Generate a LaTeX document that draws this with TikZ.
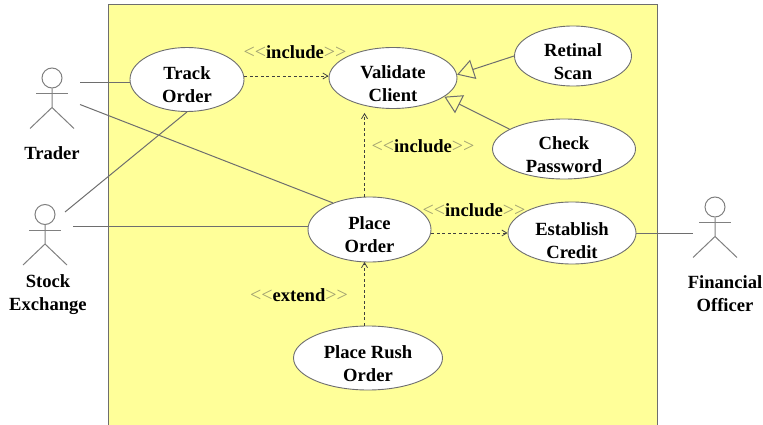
\documentclass[tikz,border=0pt]{standalone}
\usepackage{fontspec}
\setmainfont{Liberation Serif}
\usetikzlibrary{arrows.meta,shapes.geometric}
\definecolor{boxyellow}{HTML}{FFFF99}
\definecolor{linegray}{HTML}{6E6E6E}
\definecolor{stereogray}{HTML}{A0A070}
\newcommand{\chevrons}[1]{{\color{stereogray}\mdseries\fontsize{20}{23}\selectfont#1}}
\newcommand{\stereo}[1]{\chevrons{<{}<}#1\chevrons{>{}>}}
\tikzset{
	every node/.style={font=\fontsize{18.6}{23}\selectfont\bfseries,align=center,inner sep=0pt},
	usecase/.style={draw=linegray,ellipse,fill=white,line width=.9pt},
	usecasetext/.style={yshift=-5.5pt},
	assoc/.style={draw=linegray,line width=1pt},
	limb/.style={draw=gray,line width=1pt},
	depends/.style={draw=black!75,line width=.8pt,dash pattern=on 3pt off 2.5pt,-{Straight Barb[length=5pt,width=6pt]}},
	generalizes/.style={draw=linegray,line width=1pt,-{Triangle[open,length=17pt,width=20pt,fill=boxyellow]}}
}
\begin{document}
\begin{tikzpicture}[x=1pt,y=-1pt]
	\useasboundingbox (0,0) rectangle (763,425);
	\node[draw=linegray,line width=1pt,fill=boxyellow,minimum width=549,minimum height=423] (system) at (382.5,216) {};
	\foreach \name/\px/\py in {trader/52/78,stock/45/214.5,officer/715/207}{
		\node[draw=gray,line width=1pt,circle,minimum size=20] (\name) at (\px,\py) {};
		\draw[limb] (\name.south) -- ++(0,19) coordinate (\name crotch) -- ++(-22,21);
		\draw[limb] (\name crotch) -- ++(22,21);
		\draw[limb] ([yshift=-5]\name.south) ++(-16,0) -- ++(32,0);
	}
	\node at (52,153) (traderlabel) {Trader};
	\node at (48,295) (stocklabel) {Stock\\Exchange};
	\node at (725,294) (officerlabel) {Financial\\Officer};
	\node[usecase,minimum width=114,minimum height=64,label={[usecasetext]center:Track\\Order}] (track) at (187,79.5) {};
	\node[usecase,minimum width=128,minimum height=61,label={[usecasetext]center:Validate\\Client}] (validate) at (393,78) {};
	\node[usecase,minimum width=117,minimum height=60,label={[usecasetext]center:Retinal\\Scan}] (retinal) at (573,56) {};
	\node[usecase,minimum width=143,minimum height=60,label={[usecasetext]center:Check\\Password}] (check) at (564,149) {};
	\node[usecase,minimum width=123,minimum height=65,label={[usecasetext]center:Place\\Order}] (place) at (369.5,229.5) {};
	\node[usecase,minimum width=128,minimum height=62,label={[usecasetext,yshift=-2pt]center:Establish\\Credit}] (credit) at (572,233) {};
	\node[usecase,minimum width=149,minimum height=64,label={[usecasetext]center:Place Rush\\Order}] (rush) at (368,358) {};
	\coordinate (traderhand) at (80,83);
	\coordinate (traderfoot) at (80,104.5);
	\coordinate (stockhead) at (65,212);
	\coordinate (stockhand) at (73,226);
	\coordinate (officerhand) at (693,233);
	\draw[assoc] (traderhand) -- (traderhand -| track.west);
	\draw[assoc] (traderfoot) -- (place.144);
	\draw[assoc] (stockhead) -- (track.south);
	\draw[assoc] (stockhand) -- (stockhand -| place.west);
	\draw[assoc] (credit.east) -- (officerhand);
	\draw[depends] (track.east |- 0,76) -- (validate.west |- 0,76);
	\draw[depends] (place.north -| 364.5,0) -- (364.5,113);
	\draw[depends] (place.east |- 0,233) -- (credit.west);
	\draw[depends] (rush.north -| 364.5,0) -- (364.5,262);
	\draw[generalizes] (retinal.west) -- (validate.3);
	\draw[generalizes] (check.160) -- (validate.-20);
	\node (include1) at (295,52) {\stereo{include}};
	\node (include2) at (423,146) {\stereo{include}};
	\node (include3) at (474,210) {\stereo{include}};
	\node (extend1) at (299,295) {\stereo{extend}};
\end{tikzpicture}
\end{document}
